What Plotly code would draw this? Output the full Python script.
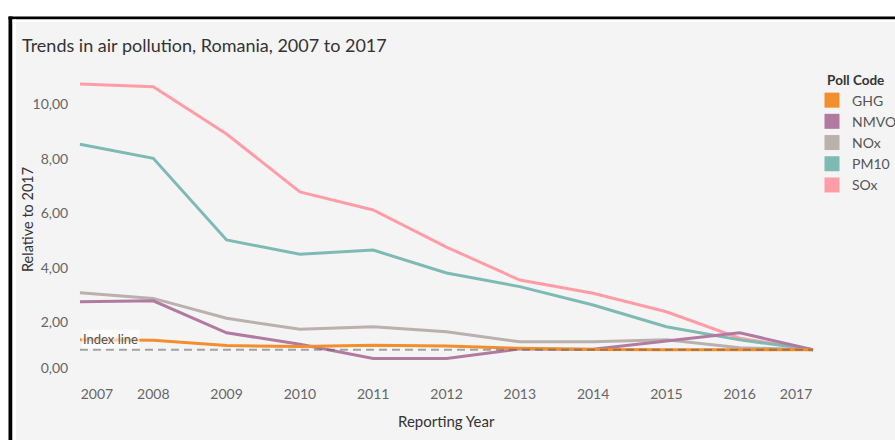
import plotly.graph_objects as go

# ---- data ----
years = [2007, 2008, 2009, 2010, 2011, 2012, 2013, 2014, 2015, 2016, 2017]
ghg   = [1.36, 1.35, 1.15, 1.12, 1.16, 1.14, 1.05, 1.01, 1.00, 1.00, 1.00]
nmvoc = [2.76, 2.79, 1.62, 1.20, 0.68, 0.68, 1.03, 1.02, 1.32, 1.62, 1.00]
nox   = [3.09, 2.88, 2.15, 1.75, 1.84, 1.66, 1.29, 1.29, 1.36, 1.07, 1.00]
pm10  = [8.53, 8.01, 5.02, 4.50, 4.65, 3.81, 3.31, 2.64, 1.84, 1.36, 1.00]
sox   = [10.73, 10.63, 8.90, 6.78, 6.12, 4.76, 3.55, 3.07, 2.39, 1.42, 1.00]
index_value = 1.0
pollutants = ["GHG", "NMVOC", "NOx", "PM10", "SOx"]
y_ticks = [0, 2, 4, 6, 8, 10]
y_tick_labels = ["0,00", "2,00", "4,00", "6,00", "8,00", "10,00"]

series = {"GHG": ghg, "NMVOC": nmvoc, "NOx": nox, "PM10": pm10, "SOx": sox}
colors = {"GHG": "#F28E2B", "NMVOC": "#B07AA1", "NOx": "#BAB0AC",
          "PM10": "#7DBAB4", "SOx": "#FF9DA7"}

W, H = 895, 440
ML, MR, MT, MB = 73, 75, 65, 60
PW, PH = W - ML - MR, H - MT - MB

def px_x(p):
    return (p - ML) / PW

def px_y(p):
    return 1 - (p - MT) / PH

fig = go.Figure()

# data lines (drawn so GHG ends on top)
for name in ["SOx", "PM10", "NOx", "NMVOC", "GHG"]:
    fig.add_trace(go.Scatter(
        x=years, y=series[name], mode="lines", name=name,
        line=dict(color=colors[name], width=3),
        showlegend=False, hoverinfo="skip"))

# legend entries with square swatches
for name in pollutants:
    fig.add_trace(go.Scatter(
        x=[None], y=[None], mode="markers", name=name,
        marker=dict(symbol="square", size=15, color=colors[name]),
        showlegend=True))

# index line
fig.add_shape(type="line", xref="x", yref="y",
              x0=years[0], x1=years[-1], y0=index_value, y1=index_value,
              line=dict(color="rgba(95,95,95,0.55)", width=2, dash="8px,5px"),
              layer="above")
fig.add_annotation(x=years[0], y=index_value, xref="x", yref="y",
                   text="Index line", showarrow=False, xanchor="left",
                   yanchor="middle", xshift=1, yshift=11,
                   bgcolor="rgba(255,255,255,0.6)", borderpad=1,
                   font=dict(family="Lato", size=13, color="#555555"))

# frame (white outer margin, black border)
frame = [
    (0, 0, W, 16.5, "white"),
    (0, 0, 8.5, H, "white"),
    (8.5, 16.5, W, 19.5, "black"),
    (8.5, 16.5, 12.5, H, "black"),
    (12.5, 19.5, W, 22, "white"),
    (12.5, 19.5, 16, H, "white"),
]
for x0, y0, x1, y1, c in frame:
    fig.add_shape(type="rect", xref="paper", yref="paper",
                  x0=px_x(x0), x1=px_x(x1), y0=px_y(y0), y1=px_y(y1),
                  fillcolor=c, line=dict(width=0), layer="above")

# titles
fig.add_annotation(xref="paper", yref="paper", x=px_x(20), y=px_y(45),
                   xanchor="left", yanchor="middle", showarrow=False,
                   text="Trends in air pollution, Romania, 2007 to 2017",
                   font=dict(family="Lato", size=18, color="#333333"))
fig.add_annotation(xref="paper", yref="paper", x=px_x(446), y=px_y(421),
                   xanchor="center", yanchor="middle", showarrow=False,
                   text="Reporting Year",
                   font=dict(family="Lato", size=15, color="#333333"))
fig.add_annotation(xref="paper", yref="paper", x=px_x(27), y=px_y(220),
                   xanchor="center", yanchor="middle", showarrow=False,
                   text="Relative to 2017", textangle=-90,
                   font=dict(family="Lato", size=14.5, color="#333333"))

# x ticks: Tableau nudges the edge labels inward
shift = 17 / (PW / 10.19)
x_tickvals = [y for y in years]
x_tickvals[0] = years[0] + shift
x_tickvals[-1] = years[-1] - shift
y_tickvals = list(y_ticks)
y_tickvals[0] = y_ticks[0] + 0.33

fig.update_layout(
    width=W, height=H,
    margin=dict(l=ML, r=MR, t=MT, b=MB, autoexpand=False),
    paper_bgcolor="#f4f4f4", plot_bgcolor="#f4f4f4",
    font=dict(family="Lato", color="#666666"),
    showlegend=True,
    legend=dict(
        title=dict(text="<b>\u00a0\u00a0\u00a0\u00a0Poll Code</b>",
                   font=dict(family="Lato", size=13.5, color="#333333")),
        font=dict(family="Lato", size=14, color="#555555"),
        x=px_x(812), xanchor="left", y=px_y(67), yanchor="top",
        bgcolor="rgba(0,0,0,0)", borderwidth=0,
        itemsizing="trace"),
    xaxis=dict(range=[2006.905, 2017.095], showgrid=False, zeroline=False,
               showline=False, tickvals=x_tickvals,
               ticktext=[str(y) for y in years],
               ticks="outside", ticklen=1, tickcolor="rgba(0,0,0,0)",
               tickfont=dict(family="Lato", size=14, color="#666666")),
    yaxis=dict(range=[-0.11, 11.43], showgrid=False, zeroline=False,
               showline=False, tickvals=y_tickvals, ticktext=y_tick_labels,
               ticks="outside", ticklen=1, tickcolor="rgba(0,0,0,0)",
               tickfont=dict(family="Lato", size=14, color="#666666")),
)

fig.write_html("out.html", config={"displayModeBar": False},
               post_script="document.body.style.margin='0px';"
                           "document.body.style.overflow='hidden';")
